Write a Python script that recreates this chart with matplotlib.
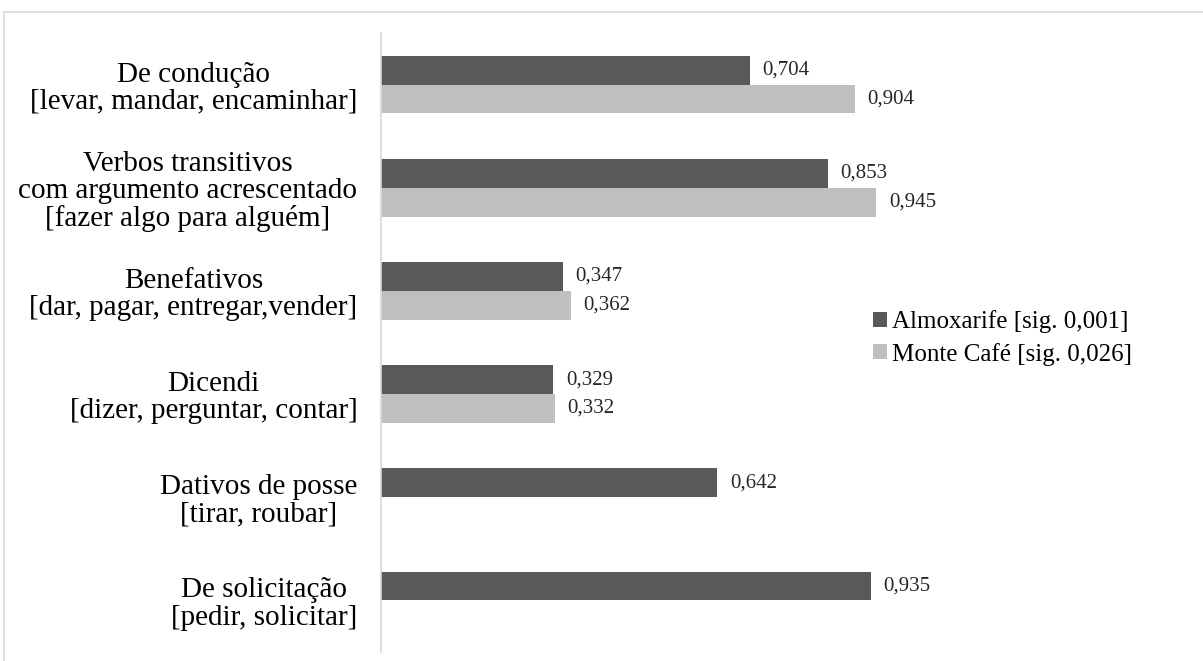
import numpy as np
import matplotlib
matplotlib.use('Agg')
import matplotlib.pyplot as plt
from matplotlib.patches import Rectangle

plt.rcParams['font.family'] = ['Liberation Serif', 'DejaVu Serif']

categories = [
    'De condução\n[levar, mandar, encaminhar]',
    'Verbos transitivos\ncom argumento acrescentado\n[fazer algo para alguém]',
    'Benefativos\n[dar, pagar, entregar,vender]',
    'Dicendi\n[dizer, perguntar, contar]',
    'Dativos de posse\n[tirar, roubar]',
    'De solicitação\n[pedir, solicitar]',
]
almoxarife = [0.704, 0.853, 0.347, 0.329, 0.642, 0.935]
monte_cafe = [0.904, 0.945, 0.362, 0.332, np.nan, np.nan]
series_names = ['Almoxarife [sig. 0,001]', 'Monte Café [sig. 0,026]']
colors = ['#595959', '#bfbfbf']

W, H = 1203, 661
fig = plt.figure(figsize=(W / 100, H / 100), dpi=100)

# light frame around the chart area
fig.patches.append(Rectangle((4 / W, -0.05), 1.1, 1 - 12 / H + 0.05,
                             transform=fig.transFigure, fill=False,
                             edgecolor='#d9d9d9', linewidth=1.2))

ax = fig.add_axes([381 / W, 9 / H, 809 / W, 619 / H])

y = np.arange(len(categories))
h = 0.28
ax.barh(y - h / 2, almoxarife, height=h, color=colors[0], label=series_names[0])
ax.barh(y + h / 2, monte_cafe, height=h, color=colors[1], label=series_names[1])

def fmt(v):
    return ('%.3f' % v).replace('.', ',')

for yy, v in zip(y - h / 2, almoxarife):
    ax.text(v + 0.024, yy, fmt(v), va='center', ha='left', fontsize=15, color='#262626')
for yy, v in zip(y + h / 2, monte_cafe):
    if not np.isnan(v):
        ax.text(v + 0.024, yy, fmt(v), va='center', ha='left', fontsize=15, color='#262626')

ax.set_ylim(len(categories) - 0.5, -0.5)
ax.set_xlim(0, 809 / 524)
ax.set_yticks(y)
ax.set_yticklabels(categories, fontsize=21, multialignment='center', linespacing=1.06)
ax.tick_params(axis='y', length=0, pad=17)
ax.set_xticks([])
for s in ['top', 'right', 'bottom']:
    ax.spines[s].set_visible(False)
ax.spines['left'].set_color('#d9d9d9')
ax.spines['left'].set_linewidth(1.2)

ax.legend(loc='center left', bbox_to_anchor=(873 / W, 1 - 338 / H),
          bbox_transform=fig.transFigure, frameon=False, fontsize=18,
          handlelength=0.55, handleheight=0.55, handletextpad=0.2,
          labelspacing=0.38, borderaxespad=0, borderpad=0)

fig.savefig('out.png', dpi=100)
